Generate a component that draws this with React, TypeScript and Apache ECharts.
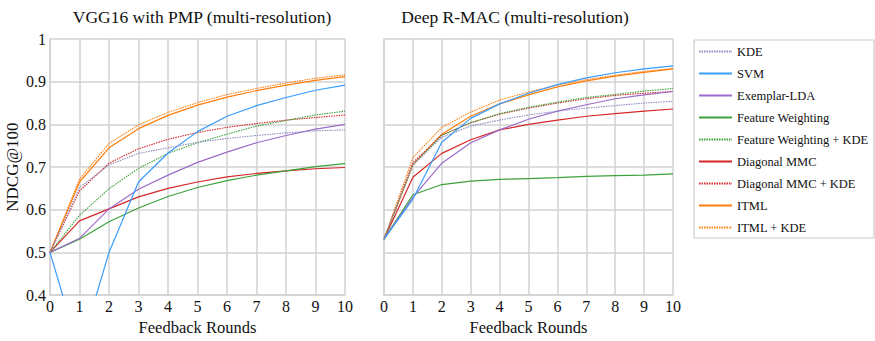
import React, { useEffect, useRef } from "react";
import * as echarts from "echarts";

const rounds = [0, 1, 2, 3, 4, 5, 6, 7, 8, 9, 10];

const seriesNames = [
  "KDE",
  "SVM",
  "Exemplar-LDA",
  "Feature Weighting",
  "Feature Weighting + KDE",
  "Diagonal MMC",
  "Diagonal MMC + KDE",
  "ITML",
  "ITML + KDE",
];

const seriesColors = [
  "#8a8cc0",
  "#3a9cff",
  "#9c6ccb",
  "#3ca23c",
  "#3ca23c",
  "#d62728",
  "#d62728",
  "#ff7f0e",
  "#ff7f0e",
];

const seriesDotted = [true, false, false, false, true, false, true, false, true];

// VGG16 with PMP (multi-resolution)
const vggKDE = [0.5, 0.652, 0.705, 0.732, 0.745, 0.758, 0.767, 0.774, 0.78, 0.785, 0.787];
const vggSVM = [0.5, 0.267, 0.5, 0.665, 0.733, 0.783, 0.819, 0.844, 0.863, 0.88, 0.892];
const vggLDA = [0.5, 0.533, 0.602, 0.648, 0.681, 0.711, 0.735, 0.757, 0.774, 0.789, 0.8];
const vggFW = [0.5, 0.531, 0.572, 0.604, 0.631, 0.652, 0.668, 0.681, 0.691, 0.701, 0.708];
const vggFWKDE = [0.5, 0.587, 0.649, 0.697, 0.732, 0.757, 0.777, 0.796, 0.809, 0.822, 0.831];
const vggMMC = [0.5, 0.574, 0.602, 0.63, 0.65, 0.665, 0.677, 0.685, 0.691, 0.696, 0.699];
const vggMMCKDE = [0.5, 0.644, 0.709, 0.743, 0.765, 0.781, 0.793, 0.802, 0.81, 0.816, 0.822];
const vggITML = [0.5, 0.665, 0.745, 0.79, 0.821, 0.845, 0.864, 0.879, 0.892, 0.903, 0.912];
const vggITMLKDE = [0.5, 0.672, 0.755, 0.799, 0.828, 0.851, 0.87, 0.884, 0.897, 0.908, 0.916];

// Deep R-MAC (multi-resolution)
const rmacKDE = [0.531, 0.705, 0.77, 0.796, 0.81, 0.822, 0.831, 0.838, 0.844, 0.85, 0.854];
const rmacSVM = [0.531, 0.625, 0.758, 0.814, 0.848, 0.873, 0.893, 0.909, 0.921, 0.93, 0.937];
const rmacLDA = [0.531, 0.629, 0.709, 0.757, 0.787, 0.812, 0.831, 0.846, 0.86, 0.869, 0.877];
const rmacFW = [0.531, 0.635, 0.659, 0.667, 0.671, 0.673, 0.675, 0.678, 0.68, 0.681, 0.684];
const rmacFWKDE = [0.531, 0.705, 0.774, 0.804, 0.825, 0.84, 0.852, 0.863, 0.87, 0.878, 0.884];
const rmacMMC = [0.531, 0.676, 0.732, 0.764, 0.787, 0.8, 0.81, 0.819, 0.825, 0.831, 0.836];
const rmacMMCKDE = [0.531, 0.71, 0.775, 0.804, 0.824, 0.838, 0.85, 0.86, 0.868, 0.873, 0.877];
const rmacITML = [0.531, 0.705, 0.777, 0.819, 0.848, 0.869, 0.888, 0.902, 0.913, 0.922, 0.93];
const rmacITMLKDE = [0.531, 0.722, 0.793, 0.829, 0.857, 0.876, 0.892, 0.905, 0.915, 0.924, 0.931];

const vggData = [vggKDE, vggSVM, vggLDA, vggFW, vggFWKDE, vggMMC, vggMMCKDE, vggITML, vggITMLKDE];
const rmacData = [rmacKDE, rmacSVM, rmacLDA, rmacFW, rmacFWKDE, rmacMMC, rmacMMCKDE, rmacITML, rmacITMLKDE];

const titles = ["VGG16 with PMP (multi-resolution)", "Deep R-MAC (multi-resolution)"];
const xAxisName = "Feedback Rounds";
const yAxisName = "NDCG@100";

const FONT = "'Liberation Serif', 'Times New Roman', serif";
const GRID_COLOR = "#d2d2d2";
const TEXT_COLOR = "#111";

export default function App() {
  const ref = useRef<HTMLDivElement>(null);

  useEffect(() => {
    if (!ref.current) return;
    const chart = echarts.init(ref.current, null, { renderer: "svg" });

    const grids = [
      { left: 50, top: 39, width: 295, height: 263 },
      { left: 384, top: 39, width: 289, height: 263 },
    ];

    const xAxes = [0, 1].map((i) => ({
      type: "value",
      gridIndex: i,
      min: 0,
      max: 10,
      interval: 1,
      name: xAxisName,
      nameLocation: "middle",
      nameGap: 20,
      nameTextStyle: { fontFamily: FONT, fontSize: 16.5, color: TEXT_COLOR },
      axisLine: { show: true, lineStyle: { color: GRID_COLOR, width: 1.5 } },
      axisTick: { show: false },
      axisLabel: { fontFamily: FONT, fontSize: 16, color: TEXT_COLOR, margin: 3 },
      splitLine: { show: true, lineStyle: { color: GRID_COLOR, width: 1.5 } },
    }));

    const yAxes = [0, 1].map((i) => ({
      type: "value",
      gridIndex: i,
      min: 0.4,
      max: 1,
      interval: 0.1,
      name: i === 0 ? yAxisName : "",
      nameLocation: "middle",
      nameGap: 29,
      nameTextStyle: { fontFamily: FONT, fontSize: 17, color: TEXT_COLOR },
      axisLine: { show: true, lineStyle: { color: GRID_COLOR, width: 1.5 } },
      axisTick: { show: false },
      axisLabel: {
        show: i === 0,
        fontFamily: FONT,
        fontSize: 16,
        color: TEXT_COLOR,
        margin: 4,
        formatter: (v: number) => String(+v.toFixed(1)),
      },
      splitLine: { show: true, lineStyle: { color: GRID_COLOR, width: 1.5 } },
    }));

    const series: any[] = [];
    [vggData, rmacData].forEach((dataset, gi) => {
      dataset.forEach((vals, si) => {
        series.push({
          type: "line",
          name: seriesNames[si],
          xAxisIndex: gi,
          yAxisIndex: gi,
          data: rounds.map((r, k) => [r, vals[k]]),
          symbol: "none",
          showSymbol: false,
          clip: true,
          color: seriesColors[si],
          lineStyle: {
            color: seriesColors[si],
            width: seriesDotted[si] ? 1.1 : 1.2,
            type: seriesDotted[si] ? [1.5, 1] : "solid",
          },
          z: 10 - si,
        });
      });
    });

    chart.setOption({
      animation: false,
      backgroundColor: "#ffffff",
      textStyle: { fontFamily: FONT },
      title: titles.map((t, i) => ({
        text: t,
        left: i === 0 ? 197 : 510,
        top: 3,
        textAlign: "center",
        textStyle: { fontFamily: FONT, fontSize: 17.5, fontWeight: "normal", color: TEXT_COLOR },
      })),
      grid: grids,
      xAxis: xAxes,
      yAxis: yAxes,
      legend: {
        orient: "vertical",
        left: 694,
        top: 40,
        padding: [5, 6, 5, 4],
        itemWidth: 33,
        itemHeight: 10,
        itemGap: 9,
        data: seriesNames,
        itemStyle: { opacity: 0 },
        textStyle: { fontFamily: FONT, fontSize: 12.5, color: TEXT_COLOR },
        selectedMode: false,
      },
      graphic: [
        {
          type: "rect",
          shape: { x: 694, y: 40, width: 180, height: 198 },
          style: { fill: "none", stroke: "#cccccc", lineWidth: 1.2 },
          silent: true,
        },
      ],
      series,
    });

    return () => chart.dispose();
  }, []);

  return (
    <div
      ref={ref}
      style={{ position: "fixed", left: 0, top: 0, width: 875, height: 341, background: "#fff" }}
    />
  );
}
